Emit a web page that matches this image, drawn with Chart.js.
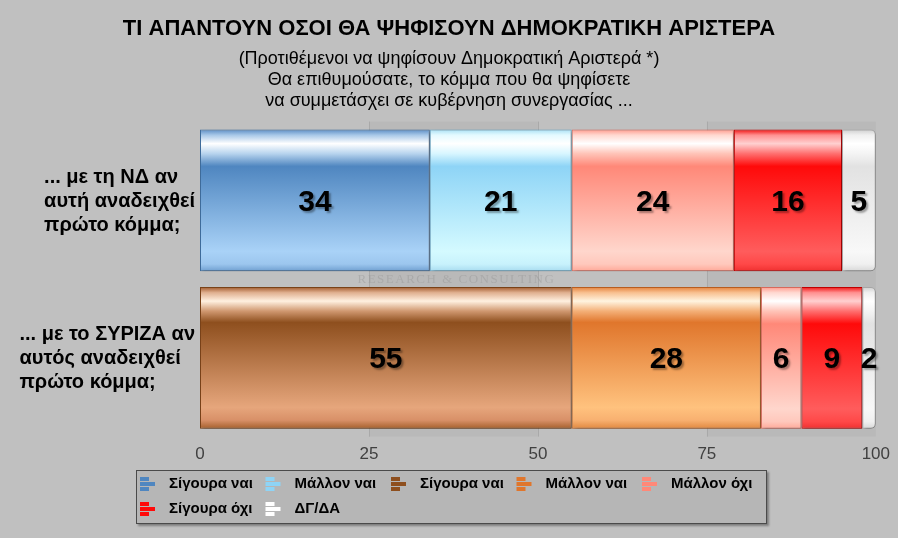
<!DOCTYPE html>
<html>
<head>
<meta charset="utf-8">
<script src="https://cdn.jsdelivr.net/npm/chart.js@4.4.1/dist/chart.umd.min.js"></script>
<style>
    html, body { margin: 0; padding: 0; background: #c0c0c0; }
    #wrap { width: 898px; height: 538px; position: relative; }
</style>
</head>
<body>
<div id="wrap"><canvas id="chart"></canvas></div>
<script>
// categorie (asse y, testo su più righe)
const categories = [
    ['... με τη ΝΔ αν', 'αυτή αναδειχθεί', 'πρώτο κόμμα;'],
    ['... με το ΣΥΡΙΖΑ αν', 'αυτός αναδειχθεί', 'πρώτο κόμμα;']
];

// serie
const seriesNames = ['Σίγουρα ναι', 'Μάλλον ναι', 'Σίγουρα ναι', 'Μάλλον ναι', 'Μάλλον όχι', 'Σίγουρα όχι', 'ΔΓ/ΔΑ'];
const ndSureYes = [34, null];
const ndMaybeYes = [21, null];
const syrizaSureYes = [null, 55];
const syrizaMaybeYes = [null, 28];
const maybeNo = [24, 6];
const sureNo = [16, 9];
const dontKnow = [5, 2];

const xTicks = [0, 25, 50, 75, 100];

const titleText = 'ΤΙ ΑΠΑΝΤΟΥΝ ΟΣΟΙ ΘΑ ΨΗΦΙΣΟΥΝ ΔΗΜΟΚΡΑΤΙΚΗ ΑΡΙΣΤΕΡΑ';
const subtitleLines = [
    '(Προτιθέμενοι να ψηφίσουν Δημοκρατική Αριστερά *)',
    'Θα επιθυμούσατε, το κόμμα που θα ψηφίσετε',
    'να συμμετάσχει σε κυβέρνηση συνεργασίας ...'
];
const watermark = 'RESEARCH & CONSULTING';

const barFraction = 0.9;

// gradiente verticale "lucido" per ogni barra
function glossy(stops, fallback) {
    return function (context) {
        const chart = context.chart;
        const area = chart.chartArea;
        if (!area || context.type !== 'data') {
            return fallback;
        }
        const y = chart.scales.y;
        const center = y.getPixelForValue(context.dataIndex);
        const half = (area.height / categories.length) * barFraction / 2;
        const g = chart.ctx.createLinearGradient(0, center - half, 0, center + half);
        stops.forEach(s => g.addColorStop(s[0], s[1]));
        return g;
    };
}

function makeDataset(label, data, stops, base, border, extra) {
    return Object.assign({
        label: label,
        data: data,
        backgroundColor: glossy(stops, base),
        legendColor: base,
        borderColor: border,
        borderWidth: 1,
        borderSkipped: false,
        categoryPercentage: barFraction,
        barPercentage: 1
    }, extra || {});
}

const datasets = [
    makeDataset(seriesNames[0], ndSureYes,
        [[0, '#5b8dc4'], [0.04, '#a8c8e8'], [0.1, '#ffffff'], [0.17, '#b8d4ee'], [0.26, '#4f86c0'], [0.86, '#a9d2f7'], [0.95, '#9cc6ee'], [1, '#6f9fd0']],
        '#4f86c0', '#3f6d9c'),
    makeDataset(seriesNames[1], ndMaybeYes,
        [[0, '#a8e0f4'], [0.04, '#e4faff'], [0.1, '#ffffff'], [0.17, '#d8f6ff'], [0.26, '#8ed4f6'], [0.86, '#d4faff'], [0.95, '#c8f2fc'], [1, '#a8dcf0']],
        '#8ed4f6', '#6aa8c8'),
    makeDataset(seriesNames[2], syrizaSureYes,
        [[0, '#a0582a'], [0.04, '#e0b090'], [0.1, '#fff0e0'], [0.17, '#d09870'], [0.25, '#8e4f1e'], [0.85, '#e6a67c'], [0.94, '#d89068'], [1, '#a5602c']],
        '#8e4f1e', '#7a4218'),
    makeDataset(seriesNames[3], syrizaMaybeYes,
        [[0, '#e4803a'], [0.04, '#f8c090'], [0.1, '#fff4e0'], [0.17, '#f4b078'], [0.25, '#e0762c'], [0.85, '#ffc27e'], [0.94, '#f8b070'], [1, '#e08840']],
        '#e0762c', '#b85e20'),
    makeDataset(seriesNames[4], maybeNo,
        [[0, '#ff9a8c'], [0.04, '#ffd8d0'], [0.1, '#ffffff'], [0.17, '#ffc4b8'], [0.26, '#ff8878'], [0.86, '#ffd6cc'], [0.95, '#ffc8bc'], [1, '#ffa898']],
        '#ff8878', '#d86a5c'),
    makeDataset(seriesNames[5], sureNo,
        [[0, '#f01010'], [0.04, '#ff9090'], [0.1, '#ffd0d0'], [0.17, '#ff7070'], [0.26, '#ff0a0a'], [0.86, '#ff5c5c'], [0.95, '#ff4848'], [1, '#f03030']],
        '#ff0a0a', '#c00000'),
    makeDataset(seriesNames[6], dontKnow,
        [[0, '#cfcfcf'], [0.04, '#f0f0f0'], [0.1, '#ffffff'], [0.17, '#f4f4f4'], [0.26, '#e2e2e2'], [0.86, '#f8f8f8'], [0.95, '#f0f0f0'], [1, '#d8d8d8']],
        '#ffffff', '#a8a8a8',
        { borderRadius: { topLeft: 0, bottomLeft: 0, topRight: 5, bottomRight: 5 } })
];

// bande di sfondo + ombra delle barre
const bandsPlugin = {
    id: 'bands',
    beforeDatasetsDraw(chart) {
        const ctx = chart.ctx;
        const area = chart.chartArea;
        const x = chart.scales.x;
        ctx.save();
        [[25, 50], [75, 100]].forEach(b => {
            const x0 = x.getPixelForValue(b[0]);
            const x1 = x.getPixelForValue(b[1]);
            ctx.fillStyle = '#b9b9b9';
            ctx.fillRect(x0, area.top, x1 - x0, area.bottom - area.top);
        });
        ctx.strokeStyle = '#a9a9a9';
        ctx.lineWidth = 1;
        [25, 50, 75].forEach(v => {
            const px = Math.round(x.getPixelForValue(v)) + 0.5;
            ctx.beginPath();
            ctx.moveTo(px, area.top);
            ctx.lineTo(px, area.bottom);
            ctx.stroke();
        });
        // watermark tra le due barre
        const yMid = (chart.scales.y.getPixelForValue(0) + chart.scales.y.getPixelForValue(1)) / 2;
        ctx.font = '13px "Liberation Serif", "Times New Roman", serif';
        ctx.letterSpacing = '1.5px';
        ctx.fillStyle = 'rgba(150,150,150,0.45)';
        ctx.textAlign = 'center';
        ctx.textBaseline = 'middle';
        ctx.fillText(watermark, (x.getPixelForValue(25) + x.getPixelForValue(50)) / 2 + 3, yMid);
        ctx.restore();

        ctx.save();
        ctx.shadowColor = 'rgba(0,0,0,0.28)';
        ctx.shadowOffsetX = 2;
        ctx.shadowOffsetY = 2;
        ctx.shadowBlur = 3;
    },
    afterDatasetsDraw(chart) {
        chart.ctx.restore();
    }
};

// valori dentro le barre
const valuesPlugin = {
    id: 'values',
    afterDatasetsDraw(chart) {
        const ctx = chart.ctx;
        ctx.save();
        ctx.font = 'bold 30px Arial, "Liberation Sans", sans-serif';
        ctx.textAlign = 'center';
        ctx.textBaseline = 'middle';
        ctx.fillStyle = '#000';
        ctx.shadowColor = 'rgba(0,0,0,0.35)';
        ctx.shadowOffsetX = 2;
        ctx.shadowOffsetY = 2;
        ctx.shadowBlur = 2;
        chart.data.datasets.forEach((ds, i) => {
            const meta = chart.getDatasetMeta(i);
            meta.data.forEach((bar, j) => {
                const v = ds.data[j];
                if (v == null) return;
                const p = bar.getProps(['x', 'y', 'base'], true);
                ctx.fillText(String(v), (p.x + p.base) / 2, p.y + 2);
            });
        });
        ctx.restore();
    }
};

// etichette categorie: blocco allineato a destra, righe allineate a sinistra
const categoryLabelsPlugin = {
    id: 'categoryLabels',
    afterDraw(chart) {
        const ctx = chart.ctx;
        const y = chart.scales.y;
        const lineH = 24;
        ctx.save();
        ctx.font = 'bold 20px Arial, "Liberation Sans", sans-serif';
        ctx.fillStyle = '#000';
        ctx.textAlign = 'left';
        ctx.textBaseline = 'middle';
        categories.forEach((lines, i) => {
            const w = Math.max(...lines.map(l => ctx.measureText(l).width));
            const left = chart.chartArea.left - 5 - w;
            const cy = y.getPixelForValue(i) + 1;
            const top = cy - (lines.length - 1) * lineH / 2;
            lines.forEach((l, k) => ctx.fillText(l, left, top + k * lineH));
        });
        ctx.restore();
    }
};

// legenda a griglia dentro un riquadro
const legendBoxPlugin = {
    id: 'legendBox',
    afterDraw(chart) {
        const ctx = chart.ctx;
        const boxW = 631, boxH = 54;
        const boxX = Math.round((chart.width - boxW) / 2) + 2;
        const boxY = chart.height - boxH - 14;
        const colW = 125.5;
        const perRow = 5;
        const rowH = 25;

        ctx.save();
        ctx.shadowColor = 'rgba(0,0,0,0.35)';
        ctx.shadowOffsetX = 2;
        ctx.shadowOffsetY = 2;
        ctx.shadowBlur = 2;
        ctx.fillStyle = '#b6b6b6';
        ctx.fillRect(boxX, boxY, boxW, boxH);
        ctx.restore();

        ctx.save();
        ctx.strokeStyle = '#4a4a4a';
        ctx.lineWidth = 1;
        ctx.strokeRect(boxX + 0.5, boxY + 0.5, boxW - 1, boxH - 1);

        ctx.font = 'bold 15px Arial, "Liberation Sans", sans-serif';
        ctx.textBaseline = 'middle';
        ctx.textAlign = 'left';
        chart.data.datasets.forEach((ds, i) => {
            const col = i % perRow;
            const row = Math.floor(i / perRow);
            const x = boxX + 4 + col * colW;
            const cy = boxY + 14 + row * rowH;
            // icona tipo "barre orizzontali"
            ctx.fillStyle = ds.legendColor;
            ctx.fillRect(x, cy - 7, 9, 4);
            ctx.fillRect(x, cy - 2, 15, 4);
            ctx.fillRect(x, cy + 3, 9, 4);
            ctx.fillStyle = '#000';
            ctx.fillText(ds.label, x + 29, cy);
        });
        ctx.restore();
    }
};

const axisFont = 'Arial, "Liberation Sans", sans-serif';

new Chart(document.getElementById('chart'), {
    type: 'bar',
    data: {
        labels: categories.map(c => c.join(' ')),
        datasets: datasets
    },
    plugins: [bandsPlugin, valuesPlugin, categoryLabelsPlugin, legendBoxPlugin],
    options: {
        indexAxis: 'y',
        responsive: true,
        maintainAspectRatio: false,
        animation: false,
        layout: {
            padding: { left: 0, right: 0, top: 0, bottom: 65 }
        },
        plugins: {
            legend: { display: false },
            tooltip: { enabled: false },
            title: {
                display: true,
                text: titleText,
                color: '#000',
                font: { family: axisFont, size: 22, weight: 'bold', lineHeight: 1.2 },
                padding: { top: 16, bottom: 4 }
            },
            subtitle: {
                display: true,
                text: subtitleLines,
                color: '#000',
                font: { family: axisFont, size: 18, lineHeight: 1.17 },
                padding: { top: 2, bottom: 10 }
            }
        },
        scales: {
            x: {
                stacked: true,
                min: 0,
                max: 100,
                afterBuildTicks: axis => { axis.ticks = xTicks.map(v => ({ value: v })); },
                grid: { display: false, drawTicks: false },
                border: { display: false },
                ticks: {
                    color: '#404040',
                    padding: 8,
                    font: { family: axisFont, size: 17 }
                }
            },
            y: {
                stacked: true,
                grid: { display: false, drawTicks: false },
                border: { display: false },
                ticks: { display: false },
                afterFit: scale => { scale.width = 200; }
            },
            // asse vuoto a destra, solo per il margine
            yRight: {
                type: 'linear',
                position: 'right',
                grid: { display: false, drawTicks: false },
                border: { display: false },
                ticks: { display: false },
                afterFit: scale => { scale.width = 22; }
            }
        }
    }
});
</script>
</body>
</html>
